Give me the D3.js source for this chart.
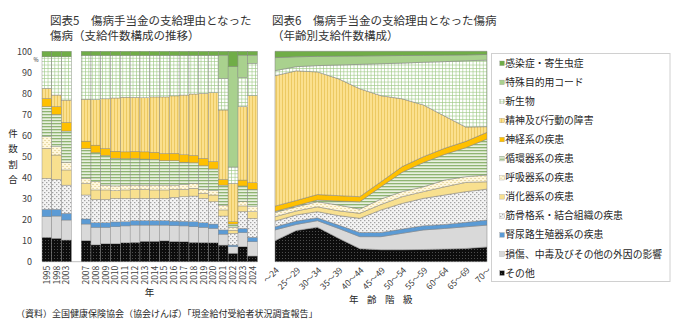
<!DOCTYPE html>
<html lang="ja">
<head>
<meta charset="utf-8">
<script src="https://cdn.jsdelivr.net/npm/d3@7"></script>
<style>
  body { margin: 0; background: #fff; }
  svg text { font-family: "Noto Sans CJK JP", "Noto Sans", sans-serif; fill: #262626; }
</style>
</head>
<body>
<div id="chart"></div>
<script>
// Causes, bottom of the stack first
var causes = ["その他", "損傷、中毒及びその他の外因の影響", "腎尿路生殖器系の疾患", "筋骨格系・結合組織の疾患",
  "消化器系の疾患", "呼吸器系の疾患", "循環器系の疾患", "神経系の疾患", "精神及び行動の障害", "新生物",
  "特殊目的用コード", "感染症・寄生虫症"];
var keys = ["other", "injury", "renal", "musculo", "digestive", "respiratory", "circulatory", "nervous",
  "mental", "neoplasm", "special", "infection"];

// Share of cases by year (%)
var years = ["1995", "1998", "2003", "2007", "2008", "2009", "2010", "2011", "2012", "2013", "2014",
  "2015", "2016", "2017", "2018", "2019", "2020", "2021", "2022", "2023", "2024"];
var yearOther = [11.6, 11.1, 10.3, 10.0, 8.0, 8.5, 8.5, 9.0, 9.2, 9.7, 9.7, 9.9, 9.6, 9.5, 9.2, 9.1, 9.0, 7.9, 4.0, 7.1, 2.7];
var yearInjury = [9.8, 10.6, 9.5, 7.9, 8.3, 7.8, 8.1, 8.0, 8.2, 7.7, 7.7, 7.5, 7.5, 7.5, 7.4, 7.2, 6.8, 5.2, 3.1, 6.7, 6.8];
var yearRenal = [3.5, 3.2, 3.2, 2.4, 2.2, 2.2, 2.3, 2.0, 2.1, 2.1, 2.1, 2.1, 2.2, 2.2, 2.4, 2.2, 2.1, 2.0, 0.8, 2.0, 2.1];
var yearMusculo = [14.7, 14.2, 13.4, 11.4, 11.1, 11.1, 11.2, 11.1, 10.6, 10.6, 10.6, 10.6, 11.3, 11.7, 12.2, 11.6, 10.6, 6.6, 5.6, 8.0, 9.0];
var yearDigestive = [14.3, 11.6, 7.2, 5.5, 4.5, 4.5, 3.6, 4.0, 4.3, 4.3, 4.0, 4.0, 3.8, 3.5, 3.7, 2.4, 3.2, 2.9, 1.5, 2.7, 3.2];
var yearRespiratory = [5.5, 4.0, 3.7, 2.4, 3.9, 2.3, 2.3, 2.3, 2.0, 2.0, 2.3, 2.3, 2.0, 2.3, 2.3, 1.9, 2.0, 2.3, 1.3, 2.0, 2.3];
var yearCirculatory = [14.3, 15.3, 14.8, 14.2, 13.8, 14.1, 13.2, 12.6, 12.7, 12.4, 12.2, 11.6, 11.6, 10.6, 9.8, 11.2, 10.4, 9.5, 1.6, 7.5, 8.3];
var yearNervous = [3.9, 3.7, 4.1, 3.5, 3.6, 3.3, 3.3, 3.2, 3.3, 3.4, 3.4, 3.4, 3.5, 3.5, 3.5, 3.5, 3.5, 2.7, 1.1, 2.8, 3.1];
var yearMental = [4.8, 5.5, 10.6, 19.9, 21.6, 23.6, 25.3, 26.0, 25.7, 25.7, 26.3, 26.9, 27.3, 28.4, 29.2, 30.9, 32.7, 33.0, 18.2, 34.9, 41.4];
var yearNeoplasm = [15.0, 18.2, 20.6, 20.8, 21.0, 20.6, 20.2, 19.8, 19.9, 20.1, 19.7, 19.7, 19.2, 18.8, 18.3, 18.0, 17.7, 15.0, 7.8, 13.8, 15.4];
var yearSpecial = [0, 0, 0, 0, 0, 0, 0, 0, 0, 0, 0, 0, 0, 0, 0, 0, 0, 11.1, 47.7, 10.7, 3.9];
var yearInfection = [2.6, 2.6, 2.6, 2.0, 2.0, 2.0, 2.0, 2.0, 2.0, 2.0, 2.0, 2.0, 2.0, 2.0, 2.0, 2.0, 2.0, 1.8, 7.3, 1.8, 1.8];

// Share of cases by age group (%)
var ages = ["～24", "25～29", "30～34", "35～39", "40～44", "45～49", "50～54", "55～59", "60～64", "65～69", "70～"];
var ageOther = [10.0, 14.8, 16.4, 11.1, 6.2, 5.7, 5.7, 5.8, 6.0, 6.3, 7.0];
var ageInjury = [5.1, 2.9, 3.1, 4.7, 5.7, 6.2, 7.8, 9.3, 9.8, 10.3, 10.4];
var ageRenal = [1.5, 1.6, 1.4, 1.6, 2.0, 2.0, 2.0, 2.0, 1.9, 2.1, 2.4];
var ageMusculo = [2.7, 2.9, 2.9, 4.5, 6.7, 10.7, 12.2, 13.0, 14.0, 14.6, 14.7];
var ageDigestive = [2.1, 1.9, 2.3, 2.3, 2.4, 2.6, 3.2, 3.2, 3.9, 4.4, 3.5];
var ageRespiratory = [2.0, 2.0, 2.4, 2.7, 2.0, 2.6, 2.4, 2.3, 3.2, 2.7, 3.2];
var ageCirculatory = [0.5, 0.5, 0.8, 1.9, 3.5, 5.8, 9.2, 11.5, 12.2, 13.8, 17.1];
var ageNervous = [2.5, 2.5, 2.6, 2.6, 2.4, 2.4, 2.7, 2.8, 2.9, 3.0, 3.2];
var ageMental = [62.0, 61.6, 58.3, 55.5, 51.3, 40.9, 32.2, 24.6, 15.3, 6.8, 2.7];
var ageNeoplasm = [2.4, 2.0, 3.0, 6.6, 11.6, 15.2, 17.0, 20.3, 25.9, 31.5, 31.6];
var ageSpecial = [6.2, 4.7, 4.4, 4.2, 4.0, 3.8, 3.6, 3.3, 3.1, 2.8, 2.7];
var ageInfection = [3.0, 2.6, 2.4, 2.3, 2.2, 2.1, 2.0, 1.9, 1.8, 1.7, 1.5];

var yTicks = [0, 10, 20, 30, 40, 50, 60, 70, 80, 90, 100];

// Build row tables for d3.stack
var yearCols = [yearOther, yearInjury, yearRenal, yearMusculo, yearDigestive, yearRespiratory,
  yearCirculatory, yearNervous, yearMental, yearNeoplasm, yearSpecial, yearInfection];
var ageCols = [ageOther, ageInjury, ageRenal, ageMusculo, ageDigestive, ageRespiratory,
  ageCirculatory, ageNervous, ageMental, ageNeoplasm, ageSpecial, ageInfection];

var yearRows = years.map(function(y, i) {
  var row = {label: y};
  keys.forEach(function(k, j) { row[k] = yearCols[j][i]; });
  return row;
});
var ageRows = ages.map(function(a, i) {
  var row = {label: a};
  keys.forEach(function(k, j) { row[k] = ageCols[j][i]; });
  return row;
});

var stack = d3.stack().keys(keys);
var yearStack = stack(yearRows);
var ageStack = stack(ageRows);

var svg = d3.select("#chart")
    .append("svg")
    .attr("width", 680)
    .attr("height", 325);

// Hatch fills
var defs = svg.append("defs");
function pattern(id, w, h, bg, marks) {
  var p = defs.append("pattern")
      .attr("id", id)
      .attr("patternUnits", "userSpaceOnUse")
      .attr("width", w)
      .attr("height", h);
  p.append("rect").attr("width", w).attr("height", h).attr("fill", bg);
  marks.forEach(function(m) {
    p.append("rect")
        .attr("x", m[0]).attr("y", m[1])
        .attr("width", m[2]).attr("height", m[3])
        .attr("fill", m[4]);
  });
}
pattern("p-other", 3, 3, "#0d0d0d", [[0, 0, 1, 1, "#4d4d4d"]]);
pattern("p-musculo", 4, 4, "#f4f4f4", [[0, 0, 1.4, 1.2, "#a3a3a3"], [2, 2, 1.4, 1.2, "#a3a3a3"]]);
pattern("p-respiratory", 4, 4, "#fff7dc", [[0, 0, 2, 0.8, "#e3d39a"], [2, 2, 2, 0.8, "#e3d39a"]]);
pattern("p-circulatory", 3, 3, "#e8f0df", [[0, 0, 3, 1.3, "#8fb472"]]);
pattern("p-mental", 3, 3, "#fbe08e", [[0, 0, 0.8, 3, "#e9c457"]]);
pattern("p-neoplasm", 3.4, 3.4, "#ffffff", [[0, 0, 3.4, 0.6, "#9cc882"], [0, 0, 0.6, 3.4, "#9cc882"]]);

var fills = {
  other: "url(#p-other)",
  injury: "#d9d9d9",
  renal: "#5b9bd5",
  musculo: "url(#p-musculo)",
  digestive: "#f8e08f",
  respiratory: "url(#p-respiratory)",
  circulatory: "url(#p-circulatory)",
  nervous: "#ffc000",
  mental: "url(#p-mental)",
  neoplasm: "url(#p-neoplasm)",
  special: "#a9d18e",
  infection: "#70ad47"
};

// Scales
var y_scale = d3.scaleLinear().domain([0, 100]).range([261.7, 51.3]);

// blank slot keeps the gap between 2003 and 2007
var slots = years.slice(0, 3).concat([" "]).concat(years.slice(3));
var x_band = d3.scaleBand().domain(slots).range([42, 257.5]).padding(0);
var x_point = d3.scalePoint().domain(ages).range([275, 487]);

// Titles
function title(x, y, str) {
  svg.append("text").attr("x", x).attr("y", y)
      .style("font-size", "11.5px").style("fill", "#333")
      .text(str);
}
title(50, 25, "図表5　傷病手当金の支給理由となった");
title(50, 40, "傷病（支給件数構成の推移）");
title(272, 25, "図表6　傷病手当金の支給理由となった傷病");
title(272, 40, "（年齢別支給件数構成）");

// ---- Chart 5: stacked bars by year ----
svg.append("line")
    .attr("x1", 42).attr("x2", 257.5)
    .attr("y1", y_scale(0)).attr("y2", y_scale(0))
    .attr("stroke", "#bfbfbf");

svg.append("g")
    .selectAll("g")
    .data(yearStack)
    .enter()
    .append("g")
    .attr("fill", function(d) { return fills[d.key]; })
    .selectAll("rect")
    .data(function(d) { return d; })
    .enter()
    .append("rect")
    .attr("x", function(d) { return x_band(d.data.label); })
    .attr("y", function(d) { return y_scale(d[1]); })
    .attr("width", x_band.bandwidth())
    .attr("height", function(d) { return y_scale(d[0]) - y_scale(d[1]); })
    .attr("stroke", "#808080")
    .attr("stroke-width", 0.4);

var yAxis = svg.append("g")
    .attr("transform", "translate(34,0)")
    .call(d3.axisLeft(y_scale).tickValues(yTicks).tickSize(0).tickPadding(2));
yAxis.select(".domain").remove();
yAxis.selectAll("text").style("font-size", "9px").style("fill", "#404040");

svg.append("text")
    .attr("x", 33.5).attr("y", 62)
    .style("font-size", "5.5px")
    .text("%");

svg.append("text")
    .attr("y", 121)
    .style("font-size", "9.5px")
    .style("text-anchor", "middle")
    .selectAll("tspan")
    .data(["件", "数", "割", "合"])
    .enter()
    .append("tspan")
    .attr("x", 13)
    .attr("dy", 15.5)
    .text(function(d) { return d; });

var xAxis = svg.append("g")
    .attr("transform", "translate(0," + y_scale(0) + ")")
    .call(d3.axisBottom(x_band).tickSize(0));
xAxis.select(".domain").remove();
xAxis.selectAll("text")
    .attr("transform", "rotate(-90)")
    .attr("x", -4)
    .attr("y", 0)
    .attr("dy", "0.35em")
    .style("text-anchor", "end")
    .style("font-size", "8.5px")
    .style("fill", "#404040");

svg.append("text")
    .attr("x", 149.5).attr("y", 296)
    .style("text-anchor", "middle")
    .style("font-size", "9.5px")
    .text("年");

// ---- Chart 6: stacked areas by age ----
var area = d3.area()
    .x(function(d) { return x_point(d.data.label); })
    .y0(function(d) { return y_scale(d[0]); })
    .y1(function(d) { return y_scale(d[1]); });

svg.append("g")
    .selectAll("path")
    .data(ageStack)
    .enter()
    .append("path")
    .attr("d", area)
    .attr("fill", function(d) { return fills[d.key]; })
    .attr("stroke", "#7f7f7f")
    .attr("stroke-width", 0.5);

var ageAxis = svg.append("g")
    .attr("transform", "translate(0," + y_scale(0) + ")")
    .call(d3.axisBottom(x_point).tickSize(0));
ageAxis.select(".domain").remove();
ageAxis.selectAll("text")
    .attr("x", 0)
    .attr("y", 0)
    .attr("dy", "0.35em")
    .attr("transform", "translate(2,7) rotate(-45)")
    .style("text-anchor", "end")
    .style("font-size", "8.5px")
    .style("fill", "#404040");

svg.append("text")
    .attr("x", 349).attr("y", 303)
    .style("font-size", "9.5px")
    .style("letter-spacing", "8.5px")
    .text("年齢階級");

// Legend, top of the stack first
var legend = svg.append("g");
legend.append("rect")
    .attr("x", 491.5).attr("y", 53.5)
    .attr("width", 178.5).attr("height", 228)
    .attr("fill", "#fff")
    .attr("stroke", "#d0d0d0");

var legendKeys = keys.slice().reverse();
var legendItems = legend.selectAll(".item")
    .data(legendKeys)
    .enter()
    .append("g")
    .attr("class", "item")
    .attr("transform", function(d, i) { return "translate(0," + (63.3 + i * 19.07) + ")"; });

legendItems.append("rect")
    .attr("x", 499.8).attr("y", -2.3)
    .attr("width", 4.6).attr("height", 4.6)
    .attr("fill", function(d) { return fills[d]; })
    .attr("stroke", "#8c8c8c")
    .attr("stroke-width", 0.3);

legendItems.append("text")
    .attr("x", 505.3)
    .attr("dy", "0.36em")
    .style("font-size", "9.8px")
    .text(function(d) { return causes[keys.indexOf(d)]; });

// Source note
svg.append("text")
    .attr("x", 16).attr("y", 317)
    .style("font-size", "9px")
    .text("（資料）全国健康保険協会（協会けんぽ）「現金給付受給者状況調査報告」");
</script>
</body>
</html>
